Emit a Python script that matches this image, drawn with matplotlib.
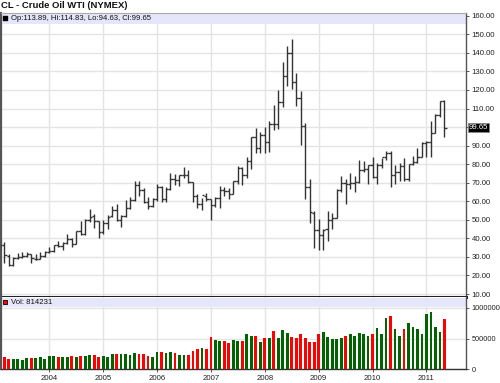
import numpy as np
import pandas as pd
import matplotlib
matplotlib.use("Agg")
import matplotlib.pyplot as plt
from matplotlib.patches import Rectangle
from matplotlib.transforms import blended_transform_factory

plt.rcParams["font.family"] = ["Liberation Sans", "DejaVu Sans"]

# monthly bars, Feb 2003 .. May 2011
months = pd.period_range("2003-02", "2011-05", freq="M")

opens = [33.5, 36.6, 30.75, 25.9, 29.6, 30.2, 30.5, 31.6, 29.1, 29.1, 30.4,
         32.5, 33.0, 36.2, 35.8, 37.4, 39.9, 37.1, 43.8, 42.1, 49.7, 51.8, 49.1,
         43.5, 48.2, 51.8, 55.4, 49.7, 51.9, 56.5, 60.6, 68.9, 66.2, 59.7, 57.3,
         61.0, 67.9, 61.4, 66.6, 71.9, 71.3, 73.9, 74.4, 70.3, 62.9, 58.7, 63.1,
         61.0, 58.1, 61.8, 65.9, 65.7, 64.0, 70.7, 78.2, 74.0, 81.7, 94.5, 88.7,
         96.0, 91.7, 101.8, 101.6, 113.5, 127.4, 140.0, 124.1, 115.5, 100.6, 67.8, 53.8,
         44.6, 41.7, 44.8, 49.7, 51.1, 66.3, 69.9, 69.5, 70.0, 70.6, 77.0, 77.3,
         79.4, 72.9, 79.7, 83.8, 86.2, 74.0, 75.6, 79.0, 71.9, 80.0, 81.4, 84.1,
         91.4, 92.2, 97.0, 106.7, 113.89]
highs = [39.99, 38.1, 31.55, 30.2, 32.2, 32.7, 32.7, 31.6, 31.7, 32.5, 33.2,
         35.2, 36.6, 38.35, 38.0, 42.3, 40.0, 44.1, 49.4, 50.5, 55.67, 53.1, 49.2,
         49.9, 52.5, 57.6, 58.3, 52.6, 60.95, 62.1, 70.85, 70.8, 67.1, 62.4, 61.9,
         69.2, 68.1, 67.8, 75.35, 74.9, 74.2, 78.4, 77.0, 70.3, 64.1, 62.0, 64.3,
         61.1, 62.2, 68.1, 67.9, 66.9, 70.8, 78.77, 78.3, 83.9, 94.7, 99.29, 97.1,
         100.09, 103.05, 111.8, 119.93, 135.09, 143.67, 147.27, 129.0, 119.2, 102.0, 71.8, 55.0,
         50.5, 45.0, 54.66, 53.9, 66.45, 73.38, 72.1, 75.0, 73.4, 82.0, 81.5, 79.6,
         83.95, 80.5, 83.2, 87.15, 87.2, 79.3, 80.4, 83.2, 80.2, 84.4, 88.6, 92.06,
         92.6, 103.4, 106.95, 114.2, 114.83]
lows = [33.0, 26.8, 24.9, 25.1, 28.9, 29.5, 30.2, 26.8, 28.6, 28.7, 29.9,
        32.2, 32.4, 35.1, 33.7, 37.2, 35.4, 37.0, 42.0, 41.8, 48.6, 45.5, 40.25,
        42.1, 44.9, 51.3, 49.2, 46.2, 51.4, 55.8, 60.1, 62.8, 59.3, 56.1, 56.7,
        60.3, 59.5, 59.6, 66.0, 68.7, 68.5, 72.7, 69.7, 59.5, 56.5, 55.4, 60.1,
        49.9, 57.1, 56.3, 62.9, 61.2, 63.7, 69.5, 69.0, 72.8, 77.2, 86.0, 86.0,
        86.1, 86.6, 98.6, 98.7, 110.6, 122.3, 120.4, 111.3, 90.5, 61.3, 48.3, 35.0,
        33.6, 33.98, 38.7, 45.1, 50.9, 64.9, 58.3, 66.7, 65.1, 69.8, 76.0, 69.5,
        72.4, 69.5, 78.1, 82.5, 67.6, 69.4, 71.1, 71.1, 70.8, 79.3, 80.6, 84.0,
        84.0, 84.1, 96.9, 105.5, 94.63]
closes = [36.6, 31.04, 25.8, 29.56, 30.19, 30.54, 31.57, 29.2, 29.11, 30.41, 32.52,
          33.05, 36.16, 35.76, 37.38, 39.88, 37.05, 43.8, 42.12, 49.64, 51.76, 49.13, 43.45,
          48.2, 51.75, 55.4, 49.72, 51.97, 56.5, 60.57, 68.94, 66.24, 59.76, 57.32, 61.04,
          67.92, 61.41, 66.63, 71.88, 71.29, 73.93, 74.4, 70.26, 62.91, 58.73, 63.13, 61.05,
          58.14, 61.79, 65.87, 65.71, 64.01, 70.68, 78.21, 74.04, 81.66, 94.53, 88.71, 95.98,
          91.75, 101.84, 101.58, 113.46, 127.35, 140.0, 124.08, 115.46, 100.64, 67.81, 54.43, 44.6,
          41.68, 44.76, 49.66, 51.12, 66.31, 69.89, 69.45, 69.96, 70.61, 77.0, 77.28, 79.36,
          72.89, 79.66, 83.76, 86.15, 73.97, 75.63, 78.95, 71.92, 79.97, 81.43, 84.11, 91.38,
          92.19, 96.97, 106.72, 113.93, 99.65]
volumes = [194, 194, 161, 161, 161, 151, 177, 183, 183, 194, 172,
           215, 215, 194, 204, 204, 220, 194, 215, 215, 226, 231, 194,
           215, 204, 253, 253, 242, 242, 226, 263, 253, 242, 220, 204,
           274, 290, 258, 280, 269, 231, 231, 231, 301, 333, 355, 333,
           521, 473, 468, 468, 430, 473, 462, 462, 570, 543, 543, 441,
           505, 505, 624, 505, 634, 586, 521, 511, 581, 505, 452, 452,
           570, 602, 521, 489, 500, 511, 543, 570, 543, 597, 575, 543,
           581, 667, 581, 833, 876, 656, 543, 656, 763, 694, 650, 570,
           903, 935, 683, 602, 814.231]
volumes = np.array(volumes) * 1000

price_ticks = np.arange(10, 161, 10)
vol_ticks = [0, 500000, 1000000]

x = np.arange(len(months))
o, h, l, c = map(np.array, (opens, highs, lows, closes))
year_pos = [i for i, m in enumerate(months) if m.month == 1]
year_lab = [str(months[i].year) for i in year_pos]

fig = plt.figure(figsize=(5.0, 3.83), dpi=100)
fig.patch.set_facecolor("white")
ax = fig.add_axes([0.002, 0.2245, 0.93, 0.7415])
av = fig.add_axes([0.002, 0.0358, 0.93, 0.1887], sharex=ax)

gridc = "#e4e4e4"
bar_col = "#333333"

# price panel
ax.vlines(x, l, h, color=bar_col, lw=1.0, zorder=3)
ax.hlines(o, x - 0.5, x, color=bar_col, lw=1.0, zorder=3)
ax.hlines(c, x, x + 0.5, color=bar_col, lw=1.0, zorder=3)
ax.set_xlim(0.26, 103.8)
ax.set_ylim(8.38, 161.5)
ax.set_yticks(price_ticks)
ax.set_yticklabels(["" if v == 100 else f"{v:.2f}" for v in price_ticks])
ax.yaxis.tick_right()
ax.tick_params(axis="y", length=2.5, width=0.7, color="#555555", labelsize=5.6,
               labelcolor="#222222", pad=1.5)
ax.tick_params(axis="x", length=0, labelbottom=False)
ax.set_xticks(year_pos)
ax.grid(True, color=gridc, lw=1.0, zorder=0)
ax.set_axisbelow(True)
for s, col, lw in (("left", "#555555", 1.6), ("right", "#555555", 1.0),
                   ("top", "#aaaaaa", 0.8), ("bottom", "#222222", 2.2)):
    ax.spines[s].set_color(col)
    ax.spines[s].set_linewidth(lw)

ax.add_patch(Rectangle((0, 0.963), 1, 0.037, transform=ax.transAxes,
                       facecolor="#e6e6fa", edgecolor="none", zorder=2))
ax.scatter([0.0095], [0.9815], marker="s", s=9, color="black",
           transform=ax.transAxes, zorder=4, clip_on=False)
ax.text(0.022, 0.9815, f"Op:{o[-1]:.2f}, Hi:{h[-1]:.2f}, Lo:{l[-1]:.2f}, Cl:{c[-1]:.2f}",
        transform=ax.transAxes, fontsize=5.6, va="center", ha="left", color="#111111",
        zorder=4)

trans = blended_transform_factory(ax.transAxes, ax.transData)
ax.text(1.006, c[-1], f"{c[-1]:.2f}", transform=trans, fontsize=5.6, color="white",
        va="center", ha="left", clip_on=False, zorder=6,
        bbox=dict(boxstyle="square,pad=0.15", facecolor="black", edgecolor="#888888", lw=0.6))

# volume panel
vcol = np.where(c >= o, "#006400", "#ff0000")
av.bar(x, volumes, width=0.62, color=vcol, zorder=3)
av.set_ylim(0, 1179000)
av.set_yticks(vol_ticks)
av.set_yticklabels([str(v) for v in vol_ticks])
av.yaxis.tick_right()
av.tick_params(axis="y", length=2.5, width=0.7, color="#555555", labelsize=5.3,
               labelcolor="#222222", pad=1.5)
av.set_xticks(year_pos)
av.set_xticklabels(year_lab)
av.tick_params(axis="x", length=2.5, width=0.7, color="#555555", labelsize=5.6,
               labelcolor="#222222", pad=1.5)
av.grid(True, color=gridc, lw=1.0, zorder=0)
av.set_axisbelow(True)
av.spines["top"].set_visible(False)
for s, col, lw in (("left", "#555555", 1.6), ("right", "#555555", 1.0),
                   ("bottom", "#333333", 1.0)):
    av.spines[s].set_color(col)
    av.spines[s].set_linewidth(lw)

av.add_patch(Rectangle((0, 0.862), 1, 0.13, transform=av.transAxes,
                       facecolor="#e6e6fa", edgecolor="none", zorder=2))
av.scatter([0.0095], [0.927], marker="s", s=10, color="#ff0000", edgecolors="black",
           linewidths=0.6, transform=av.transAxes, zorder=4, clip_on=False)
av.text(0.022, 0.927, f"Vol: {int(round(volumes[-1]))}", transform=av.transAxes,
        fontsize=5.6, va="center", ha="left", color="#111111", zorder=4)

fig.text(0.002, 0.997, "CL - Crude Oil WTI (NYMEX)", fontsize=6.8, fontweight="bold",
         va="top", ha="left", color="#111111")

fig.savefig("out.png", dpi=100)
